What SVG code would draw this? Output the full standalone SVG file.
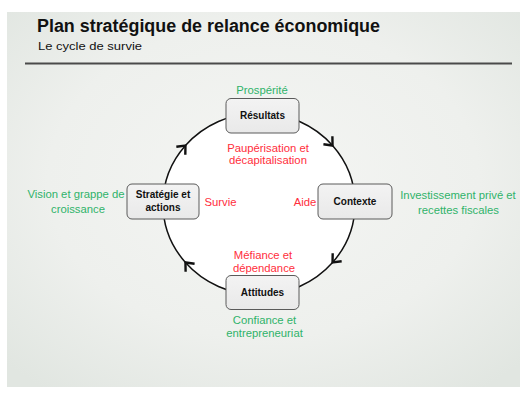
<svg xmlns="http://www.w3.org/2000/svg" width="520" height="394" viewBox="0 0 520 394">
  <defs>
    <radialGradient id="slideBg" cx="0.5" cy="0.45" r="0.7">
      <stop offset="0" stop-color="#f4f5f3"/>
      <stop offset="0.6" stop-color="#eef0ed"/>
      <stop offset="1" stop-color="#e1e6e1"/>
    </radialGradient>
    <linearGradient id="boxFill" x1="0" y1="0" x2="0" y2="1">
      <stop offset="0" stop-color="#f3f3f3"/>
      <stop offset="1" stop-color="#e9e9e9"/>
    </linearGradient>
    <marker id="chev" markerUnits="userSpaceOnUse" markerWidth="16" markerHeight="16" refX="10" refY="8" orient="auto" overflow="visible">
      <path d="M3,2 L10,8 L3,14" fill="none" stroke="#111" stroke-width="2.4" stroke-linejoin="miter"/>
    </marker>
  </defs>
  <style>
    .lbl { font-family: "Liberation Sans", Arial, sans-serif; font-size: 11.3px; text-anchor: middle; }
    .green { fill: #2fb36a; }
    .red { fill: #ff2e3c; }
    .box { fill: url(#boxFill); stroke: #5a5a5a; stroke-width: 1; }
    .boxtxt { font-family: "Liberation Sans", Arial, sans-serif; font-size: 10px; font-weight: bold; fill: #111; text-anchor: middle; }
    .arc { fill: none; stroke: #111; stroke-width: 1.5; }
  </style>

  <!-- slide background -->
  <rect x="0" y="0" width="520" height="394" fill="#ffffff"/>
  <rect x="7" y="12" width="513" height="375" fill="url(#slideBg)"/>

  <!-- heading -->
  <g id="heading">
    <text x="37" y="32" font-family="Liberation Sans, Arial, sans-serif" font-size="17.5" font-weight="bold" fill="#111" textLength="343" lengthAdjust="spacingAndGlyphs">Plan stratégique de relance économique</text>
    <text x="38" y="50" font-family="Liberation Sans, Arial, sans-serif" font-size="11.5" fill="#111" textLength="104" lengthAdjust="spacingAndGlyphs">Le cycle de survie</text>
    <line x1="25" y1="63.5" x2="512" y2="63.5" stroke="#4a4a4a" stroke-width="2"/>
  </g>

  <!-- cycle interior -->
  <ellipse cx="259" cy="204" rx="96" ry="91" fill="#ffffff"/>

  <!-- connectors: clockwise arcs with mid-arc chevrons -->
  <g id="connectors">
    <path class="arc" marker-mid="url(#chev)" d="M163,204 A96,91 0 0 1 185.46,145.51 A96,91 0 0 1 259,113"/>
    <path class="arc" marker-mid="url(#chev)" d="M259,113 A96,91 0 0 1 332.54,145.51 A96,91 0 0 1 355,204"/>
    <path class="arc" marker-mid="url(#chev)" d="M355,204 A96,91 0 0 1 332.54,262.49 A96,91 0 0 1 259,295"/>
    <path class="arc" marker-mid="url(#chev)" d="M259,295 A96,91 0 0 1 185.46,262.49 A96,91 0 0 1 163,204"/>
  </g>

  <!-- nodes -->
  <g id="resultats">
    <rect class="box" x="226" y="98.5" width="73" height="34.5" rx="5"/>
    <text class="boxtxt" x="262.5" y="119">Résultats</text>
  </g>
  <g id="contexte">
    <rect class="box" x="318" y="184" width="74" height="35" rx="5"/>
    <text class="boxtxt" x="355" y="205">Contexte</text>
  </g>
  <g id="attitudes">
    <rect class="box" x="226" y="275.5" width="73" height="34" rx="5"/>
    <text class="boxtxt" x="262.5" y="296">Attitudes</text>
  </g>
  <g id="strategie">
    <rect class="box" x="127" y="184" width="72" height="35" rx="5"/>
    <text class="boxtxt" x="163" y="198">Stratégie et</text>
    <text class="boxtxt" x="163" y="211">actions</text>
  </g>

  <!-- outer (green) and inner (red) labels -->
  <g id="labels">
    <text class="lbl green" x="262" y="94">Prospérité</text>
    <text class="lbl red" x="268" y="152">Paupérisation et</text>
    <text class="lbl red" x="268" y="164">décapitalisation</text>
    <text class="lbl red" x="220.5" y="206">Survie</text>
    <text class="lbl red" x="305" y="206">Aide</text>
    <text class="lbl green" x="76" y="198">Vision et grappe de</text>
    <text class="lbl green" x="78" y="213">croissance</text>
    <text class="lbl green" x="458" y="199">Investissement privé et</text>
    <text class="lbl green" x="458.5" y="214">recettes fiscales</text>
    <text class="lbl red" x="263" y="259">Méfiance et</text>
    <text class="lbl red" x="264" y="272">dépendance</text>
    <text class="lbl green" x="264.5" y="324">Confiance et</text>
    <text class="lbl green" x="264.5" y="337">entrepreneuriat</text>
  </g>
</svg>
